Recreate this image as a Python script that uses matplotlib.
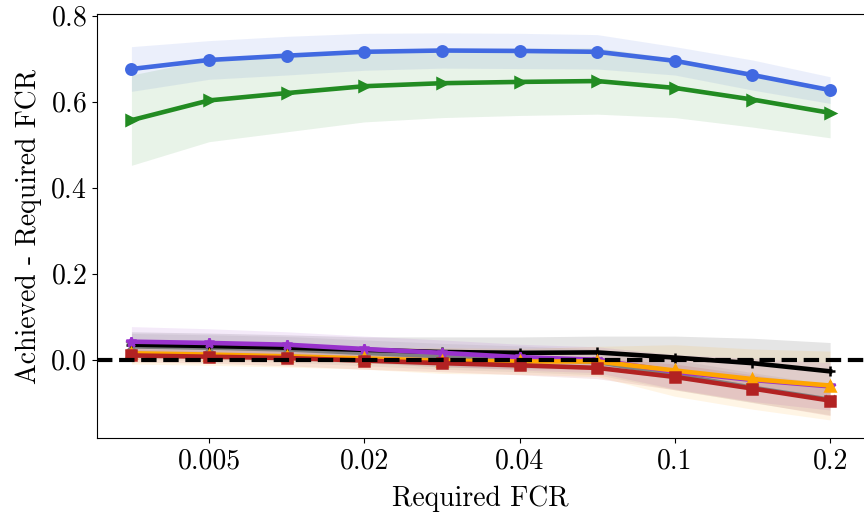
import numpy as np
import matplotlib
matplotlib.use('Agg')
import matplotlib.pyplot as plt

plt.rcParams['font.family'] = 'serif'
plt.rcParams['font.serif'] = ['cmr10']
plt.rcParams['mathtext.fontset'] = 'cm'
plt.rcParams['axes.unicode_minus'] = False
plt.rcParams['axes.formatter.use_mathtext'] = True

# x positions are categorical (10 required FCR levels)
n_points = 10
tick_idx = [1, 3, 5, 7, 9]
tick_labels = ['0.005', '0.02', '0.04', '0.1', '0.2']

blue_mean = [0.676, 0.697, 0.707, 0.716, 0.719, 0.718, 0.716, 0.695, 0.662, 0.627]
blue_std = [0.052, 0.045, 0.045, 0.043, 0.041, 0.041, 0.040, 0.033, 0.035, 0.031]

green_mean = [0.557, 0.603, 0.620, 0.636, 0.643, 0.646, 0.648, 0.632, 0.605, 0.574]
green_std = [0.105, 0.096, 0.090, 0.083, 0.080, 0.078, 0.077, 0.069, 0.064, 0.058]

gray_mean = [0.031, 0.028, 0.024, 0.016, 0.008, 0.002, -0.005, -0.035, -0.065, -0.093]
gray_std = [0.03, 0.03, 0.03, 0.03, 0.03, 0.03, 0.03, 0.035, 0.035, 0.035]

black_mean = [0.035, 0.032, 0.028, 0.023, 0.018, 0.016, 0.017, 0.005, -0.008, -0.027]
black_std = [0.03, 0.03, 0.03, 0.03, 0.035, 0.037, 0.038, 0.05, 0.058, 0.067]

purple_mean = [0.042, 0.039, 0.035, 0.025, 0.016, 0.006, 0.0, -0.028, -0.047, -0.062]
purple_std = [0.035, 0.033, 0.030, 0.030, 0.030, 0.030, 0.030, 0.040, 0.050, 0.055]

orange_mean = [0.015, 0.012, 0.008, 0.003, -0.002, -0.004, -0.004, -0.025, -0.045, -0.060]
orange_std = [0.025, 0.025, 0.025, 0.025, 0.03, 0.03, 0.035, 0.06, 0.07, 0.08]

red_mean = [0.010, 0.007, 0.004, -0.002, -0.008, -0.013, -0.019, -0.040, -0.067, -0.095]
red_std = [0.015, 0.015, 0.018, 0.02, 0.02, 0.022, 0.025, 0.03, 0.032, 0.035]

series = [
    (blue_mean, blue_std, 'royalblue', 'o'),
    (green_mean, green_std, 'forestgreen', '>'),
    (gray_mean, gray_std, 'gray', 'x'),
    (black_mean, black_std, 'black', '+'),
    (purple_mean, purple_std, 'darkorchid', '*'),
    (orange_mean, orange_std, 'orange', '^'),
    (red_mean, red_std, 'firebrick', 's'),
]

fig = plt.figure(figsize=(8.64, 5.17), dpi=100)
ax = fig.add_axes([0.1117, 0.1528, 0.8895, 0.8202])
x = np.arange(n_points)

for mean, std, color, marker in series:
    mean = np.array(mean)
    std = np.array(std)
    ax.fill_between(x, mean - std, mean + std, color=color, alpha=0.1, lw=0)
    ax.plot(x, mean, color=color, marker=marker, lw=3.3, ms=7.5, mew=1.8)

ax.axhline(0, color='black', linestyle='--', lw=3, zorder=5)

ax.set_xlim(-0.45, 9.45)
ax.set_ylim(-0.182, 0.804)
ax.set_xticks(tick_idx)
ax.set_xticklabels(tick_labels)
ax.set_yticks([0.0, 0.2, 0.4, 0.6, 0.8])
ax.tick_params(labelsize=20)
ax.set_xlabel('Required FCR', fontsize=20, labelpad=8)
ax.set_ylabel('Achieved - Required FCR', fontsize=20, labelpad=6)

plt.savefig('out.png', dpi=100)
